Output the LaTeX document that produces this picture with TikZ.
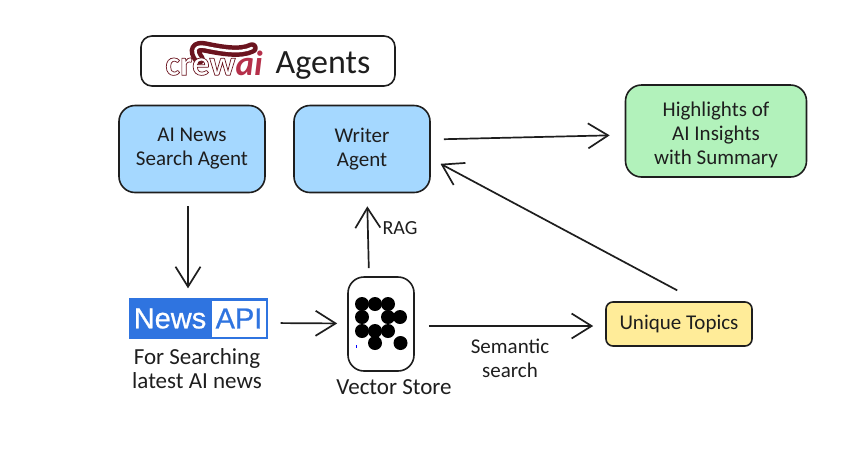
\documentclass[tikz,border=0pt]{standalone}
\usepackage{fontspec}
\setmainfont{Carlito}
\newfontfamily\apifont[FakeBold=0.8]{Liberation Sans}
\newfontfamily\crewfont[FakeBold=2,ItalicFont={Carlito Bold Italic}]{Carlito Bold Italic}
\usetikzlibrary{arrows.meta}
\definecolor{inkcol}{HTML}{1E1E1E}
\definecolor{agentblue}{HTML}{A5D8FF}
\definecolor{resultgreen}{HTML}{B2F2BB}
\definecolor{topicyellow}{HTML}{FFEC99}
\definecolor{apiblue}{HTML}{2F74E0}
\definecolor{crewred}{HTML}{B5304A}
\definecolor{crewdark}{HTML}{6B141F}
\newcommand{\crewtext}{{\color{white}\special{pdf:code 0.42 0.08 0.12 RG}\crewfont crew}}
\tikzset{
  box/.style={draw=inkcol,line width=1.6pt,rounded corners=16pt,inner sep=0pt,align=center,text=inkcol,font=\fontsize{21}{24}\selectfont},
  label/.style={inner sep=0pt,align=center,text=inkcol,font=\fontsize{23}{24}\selectfont},
  flow/.style={draw=inkcol,line width=1.7pt,-{Straight Barb[length=20pt,width=25pt,line width=1.7pt]}},
  dot/.style={circle,fill=black,minimum size=14pt,inner sep=0pt}
}
\begin{document}
\begin{tikzpicture}[x=1pt,y=-1pt]
  \useasboundingbox (0,0) rectangle (844,448);
  % title
  \node[box,rounded corners=11pt,minimum width=254pt,minimum height=50pt] (title) at (268,61) {};
  \draw[crewdark,line width=4.5pt,double=white,double distance=2.5pt,line cap=round] (199,59) .. controls (192,50) and (196,45) .. (205,47) .. controls (220,50) and (240,54) .. (252,48);
  \node[inner sep=0pt,font=\fontsize{35}{35}\bfseries\itshape\selectfont] (crewai) at (214,63) {\crewtext\textcolor{crewred}{ai}};
  \node[label,font=\fontsize{34}{34}\selectfont] (agents) at (323,66) {Agents};
  % agents
  \node[box,fill=agentblue,minimum width=146pt,minimum height=87pt] (search) at (192,149) {AI News\\Search Agent};
  \node[box,fill=agentblue,minimum width=136pt,minimum height=87pt] (writer) at (362,149) {Writer\\Agent};
  \node[box,fill=resultgreen,minimum width=181pt,minimum height=92pt] (highlights) at (716,131) {\rule{0pt}{22pt}Highlights of\\AI Insights\\with Summary};
  % news api
  \node[fill=apiblue,minimum width=139pt,minimum height=41pt,inner sep=0pt] (newsapi) at (198,318) {};
  \node[fill=white,minimum width=54pt,minimum height=36pt,inner sep=0pt,text=apiblue,font=\apifont\fontsize{29}{29}\selectfont] (apiword) at (239,318.5) {API};
  \node[inner sep=0pt,text=white,font=\apifont\fontsize{29}{29}\selectfont] (newsword) at (170,318.5) {News};
  \node[label] (newscap) at (197,369) {For Searching\\latest AI news};
  % vector store
  \node[box,fill=white,minimum width=66pt,minimum height=94pt] (vector) at (381,324) {};
  \foreach \x/\y in {362/304,375/304,388/304,362/317,388/317,400/317,362/331,375/331,388/331,375/343,400.5/343}
    \node[dot] (d\x-\y) at (\x,\y) {};
  \draw[blue,line width=.6pt] (356.5,345) -- (356.5,348);
  \node[label] (vectorcap) at (394,387) {Vector Store};
  % topics
  \node[box,rounded corners=7pt,fill=topicyellow,minimum width=146pt,minimum height=44pt] (topics) at (679,324) {Unique Topics};
  % connectors
  \draw[flow,shorten <=13pt,shorten >=9pt] ([xshift=-4pt]search.south) -- ([xshift=-10pt]newsapi.north);
  \draw[flow,shorten <=13pt,shorten >=15pt] (writer.east |- 0,139.5) -- (highlights.west |- 0,135);
  \draw[flow,shorten <=23pt,shorten >=11pt] ([xshift=18.5pt]topics.north) -- (writer.east |- 0,158.6);
  \draw[flow,shorten <=13pt,shorten >=10pt] (newsapi.east |- 0,323) -- (vector.west |- 0,323.5);
  \draw[flow,shorten <=14pt,shorten >=12pt] (vector.east |- 0,326) -- (topics.west |- 0,326);
  \draw[flow,shorten <=8pt,shorten >=13pt] ([xshift=-12pt]vector.north) -- ([xshift=5pt]writer.south);
  \node[label,font=\fontsize{20}{24}\selectfont] (rag) at (400,228) {RAG};
  \node[label,font=\fontsize{21}{24}\selectfont] (semantic) at (510,358) {Semantic\\search};
\end{tikzpicture}
\end{document}
